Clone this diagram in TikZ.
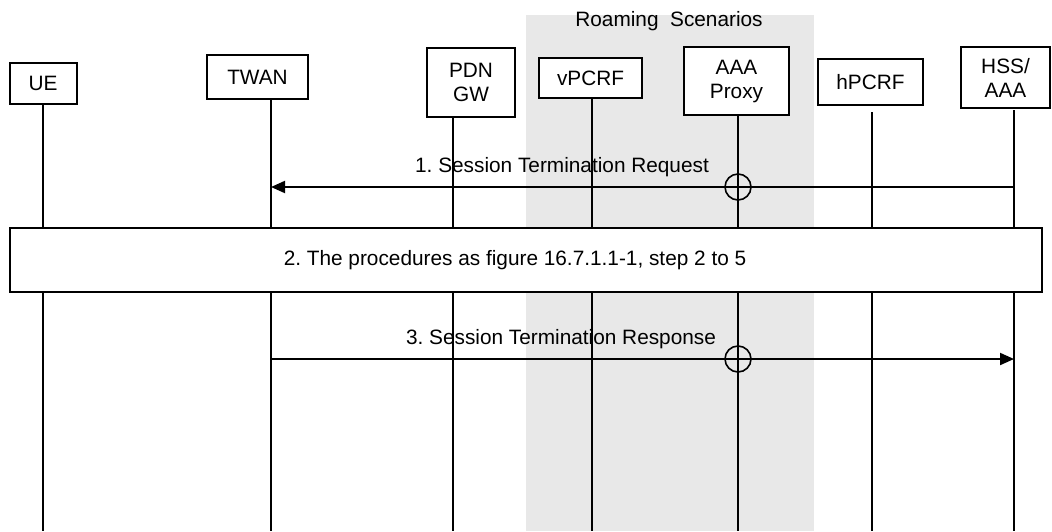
\documentclass[tikz,border=0pt]{standalone}
\usepackage{fontspec}
\setmainfont{Liberation Sans}
\usetikzlibrary{arrows.meta}
\frenchspacing
\begin{document}
\begin{tikzpicture}[x=0.5pt,y=-0.5pt,
  font=\fontsize{10.4}{12}\selectfont,
  entity/.style={draw,line width=1pt,fill=white,align=center,inner sep=0pt},
  life/.style={line width=0.9pt},
  msg/.style={line width=1pt,-{Triangle[length=7pt,width=6pt]}},
  hop/.style={line width=0.8pt}]
\useasboundingbox (0,0) rectangle (1052,531);
% roaming area
\fill[black!9] (526,15) rectangle (814,531);
\node (roam) at (669,21) {Roaming\ \ Scenarios};
% entities
\node[entity,minimum width=33.5pt,minimum height=20.5pt] (ue) at (43,83.5) {UE};
\node[entity,minimum width=50.5pt,minimum height=22pt] (twan) at (257.5,77) {TWAN};
\node[entity,minimum width=44pt,minimum height=34.5pt] (pgw) at (471,82.5) {PDN\\GW};
\node[entity,minimum width=51.5pt,minimum height=20pt] (vpcrf) at (590.5,78) {vPCRF};
\node[entity,minimum width=52.5pt,minimum height=34pt] (aaap) at (736.5,81) {AAA\\Proxy};
\node[entity,minimum width=52.5pt,minimum height=23pt] (hpcrf) at (870.5,82) {hPCRF};
\node[entity,minimum width=44.5pt,minimum height=30.5pt] (hss) at (1005.5,77.5) {HSS/\\AAA};
% lifelines
\draw[life] (43,0 |- ue.south) -- (43,531);
\draw[life] (271,0 |- twan.south) -- (271,531);
\draw[life] (453,0 |- pgw.south) -- (453,531);
\draw[life] (592,0 |- vpcrf.south) -- (592,531);
\draw[life] (738,0 |- aaap.south) -- (738,531);
\draw[life] (872,112) -- (872,531);
\draw[life] (1014,110) -- (1014,531);
% messages
\coordinate (hss1) at (1014,187);
\coordinate (twan1) at (271,187);
\coordinate (aaa1) at (738,187);
\draw[msg] (hss1) -- (twan1);
\node (m1) at (562,167) {1. Session Termination Request};
\draw[hop] (aaa1) circle (6.5pt);
\node[draw,line width=1pt,fill=white,minimum width=516pt,minimum height=32pt] (step2) at (526,260) {};
\node (s2) at (515,260) {2. The procedures as figure 16.7.1.1-1, step 2 to 5};
\coordinate (twan3) at (271,359);
\coordinate (hss3) at (1014,359);
\coordinate (aaa3) at (738,359);
\draw[msg] (twan3) -- (hss3);
\node (m3) at (561,339) {3. Session Termination Response};
\draw[hop] (aaa3) circle (6.5pt);
\end{tikzpicture}
\end{document}
